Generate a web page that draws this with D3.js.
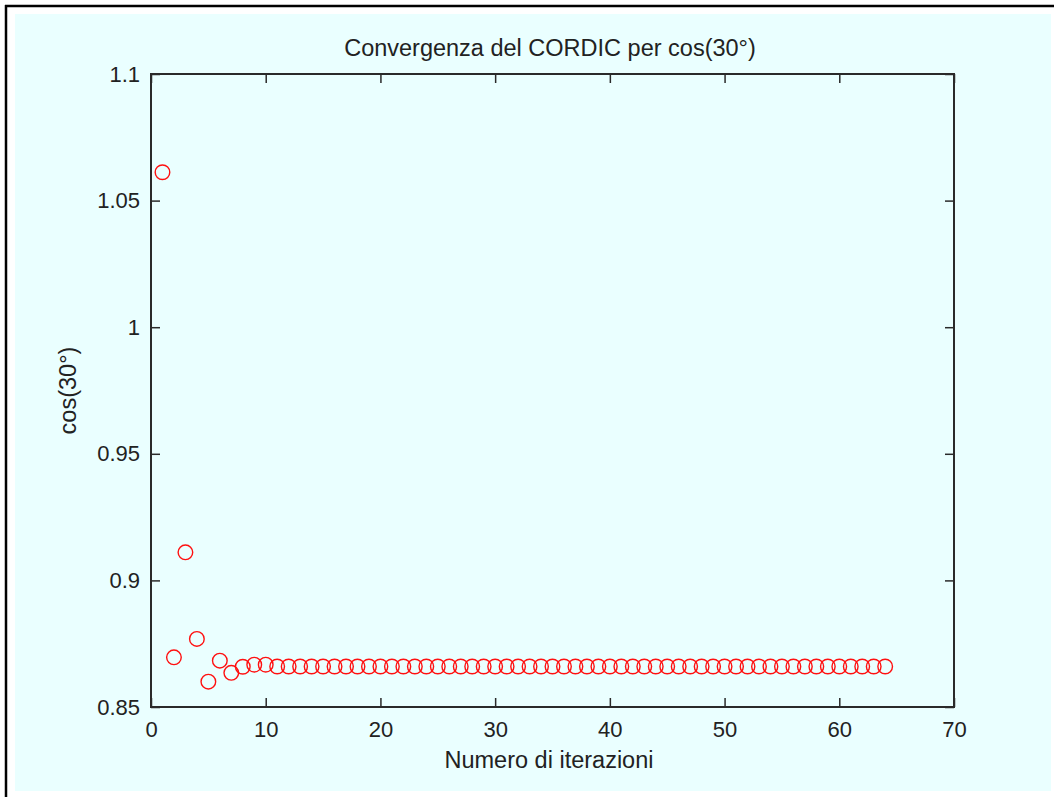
<!DOCTYPE html>
<html>
<head>
<meta charset="utf-8">
<script src="https://cdn.jsdelivr.net/npm/d3@7"></script>
<style>
  html, body { margin: 0; padding: 0; background: #ffffff; }
  svg { display: block; }
  text { font-family: "Liberation Sans", Arial, Helvetica, sans-serif; fill: #222222; }
</style>
</head>
<body>
<svg id="chart" width="1054" height="797"></svg>
<script>
// ---- data ----
const iterations = d3.range(1, 65);            // 1..64
const cosValues = [
  1.0612, 0.8696, 0.9111, 0.8769, 0.8600, 0.8683, 0.8635, 0.8659, 0.8667, 0.8667,
  0.8660, 0.8660, 0.8660, 0.8660, 0.8660, 0.8660, 0.8660, 0.8660, 0.8660, 0.8660,
  0.8660, 0.8660, 0.8660, 0.8660, 0.8660, 0.8660, 0.8660, 0.8660, 0.8660, 0.8660,
  0.8660, 0.8660, 0.8660, 0.8660, 0.8660, 0.8660, 0.8660, 0.8660, 0.8660, 0.8660,
  0.8660, 0.8660, 0.8660, 0.8660, 0.8660, 0.8660, 0.8660, 0.8660, 0.8660, 0.8660,
  0.8660, 0.8660, 0.8660, 0.8660, 0.8660, 0.8660, 0.8660, 0.8660, 0.8660, 0.8660,
  0.8660, 0.8660, 0.8660, 0.8660
];
const xTicks = [0, 10, 20, 30, 40, 50, 60, 70];
const yTicks = [0.85, 0.9, 0.95, 1, 1.05, 1.1];
const xDomain = [0, 70];
const yDomain = [0.85, 1.1];
const titleText = "Convergenza del CORDIC per cos(30°)";
const xLabelText = "Numero di iterazioni";
const yLabelText = "cos(30°)";

// ---- layout ----
const svg = d3.select("#chart");
const pLeft = 151, pRight = 954, pTop = 74, pBottom = 707;
const bg = "#eaffff";
const axisColor = "#2a2a2a";
const tickLen = 9;
const tickFont = 22;
const labelFont = 23.5;

// frame (screenshot border)
svg.append("rect").attr("x", 0).attr("y", 0).attr("width", 1054).attr("height", 797).attr("fill", "#ffffff");
svg.append("rect").attr("x", 15).attr("y", 14).attr("width", 1036).attr("height", 777).attr("fill", bg);
svg.append("line").attr("x1", 6).attr("x2", 6).attr("y1", 5).attr("y2", 797)
  .attr("stroke", "#000").attr("stroke-width", 2.5);
svg.append("line").attr("x1", 5).attr("x2", 1054).attr("y1", 6).attr("y2", 6)
  .attr("stroke", "#000").attr("stroke-width", 2.5);

const x = d3.scaleLinear().domain(xDomain).range([pLeft, pRight]);
const y = d3.scaleLinear().domain(yDomain).range([pBottom, pTop]);

const fmt = d => String(+d.toFixed(2));

// bottom axis
const gx = svg.append("g").attr("transform", `translate(0,${pBottom})`)
  .call(d3.axisBottom(x).tickValues(xTicks).tickSizeInner(-tickLen).tickSizeOuter(0).tickPadding(14).tickFormat(fmt));
// top axis (mirror ticks)
const gxt = svg.append("g").attr("transform", `translate(0,${pTop})`)
  .call(d3.axisTop(x).tickValues(xTicks).tickSizeInner(-tickLen).tickSizeOuter(0).tickFormat(""));
// left axis
const gy = svg.append("g").attr("transform", `translate(${pLeft},0)`)
  .call(d3.axisLeft(y).tickValues(yTicks).tickSizeInner(-tickLen).tickSizeOuter(0).tickPadding(11).tickFormat(fmt));
// right axis (mirror ticks)
const gyr = svg.append("g").attr("transform", `translate(${pRight},0)`)
  .call(d3.axisRight(y).tickValues(yTicks).tickSizeInner(-tickLen).tickSizeOuter(0).tickFormat(""));

[gx, gxt, gy, gyr].forEach(g => {
  g.select(".domain").remove();
  g.selectAll(".tick line").attr("stroke", axisColor).attr("stroke-width", 1.5);
  g.selectAll(".tick text").attr("fill", "#222222").style("font-size", tickFont + "px")
    .style("font-family", "'Liberation Sans', Arial, sans-serif");
});
gx.selectAll(".tick text").attr("dy", "0.71em");

// box
svg.append("rect").attr("x", pLeft).attr("y", pTop).attr("width", pRight - pLeft).attr("height", pBottom - pTop)
  .attr("fill", "none").attr("stroke", axisColor).attr("stroke-width", 2);

// markers
svg.append("g").selectAll("circle")
  .data(iterations.map((it, i) => ({ it, v: cosValues[i] })))
  .join("circle")
  .attr("cx", d => x(d.it))
  .attr("cy", d => y(d.v))
  .attr("r", 7.3)
  .attr("fill", "none")
  .attr("stroke", "#ff1010")
  .attr("stroke-width", 1.4);

// title
svg.append("text").attr("x", 550).attr("y", 56)
  .attr("text-anchor", "middle").style("font-size", labelFont + "px").text(titleText);
// x label
svg.append("text").attr("x", 549).attr("y", 768)
  .attr("text-anchor", "middle").style("font-size", labelFont + "px").text(xLabelText);
// y label
svg.append("text").attr("transform", `translate(76,${(pTop + pBottom) / 2}) rotate(-90)`)
  .attr("text-anchor", "middle").style("font-size", labelFont + "px").text(yLabelText);
</script>
</body>
</html>
